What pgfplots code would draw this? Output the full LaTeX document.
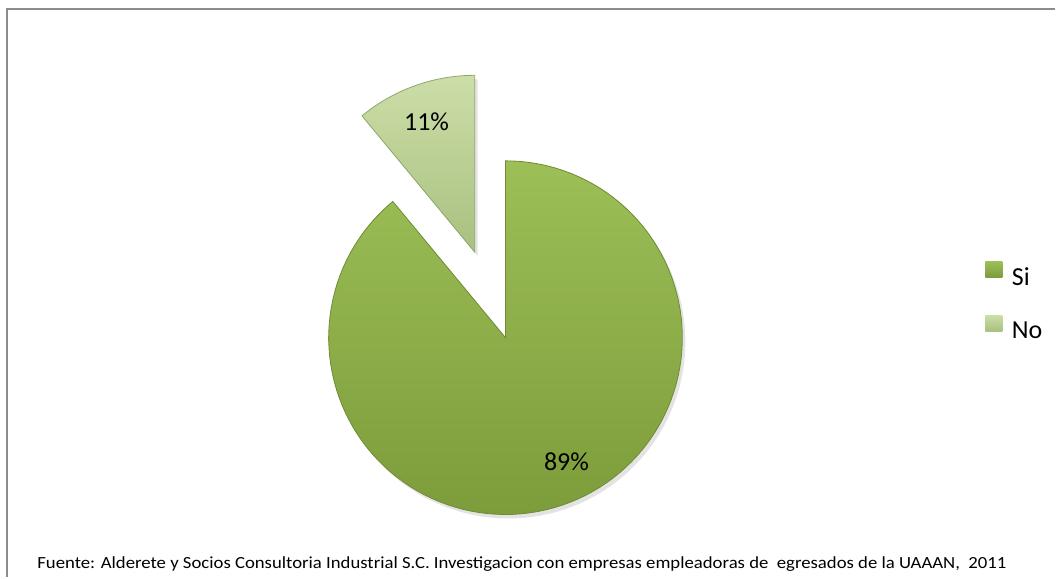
\documentclass[border=0pt]{standalone}
\usepackage{pgfplots}
\pgfplotsset{compat=1.18}
\usepackage{pgfplotstable}
\usepackage{graphicx}
\usepackage{fontspec}
\setmainfont{Carlito}

\definecolor{siTop}{HTML}{9CBF57}
\definecolor{siBot}{HTML}{7D9C3B}
\definecolor{siEdge}{HTML}{6F8B33}
\definecolor{noTop}{HTML}{CCDEA8}
\definecolor{noBot}{HTML}{A9C07F}
\definecolor{noEdge}{HTML}{8FA66A}
\definecolor{frameGray}{HTML}{8C8C8C}

% share of each answer (%)
\pgfplotstableread{
label value
Si 89
No 11
}\piedata

\begin{document}
\begin{tikzpicture}
\pgfplotstablegetelem{0}{value}\of\piedata \let\vsi\pgfplotsretval
\pgfplotstablegetelem{1}{value}\of\piedata \let\vno\pgfplotsretval
\pgfmathsetmacro{\total}{\vsi+\vno}
% Si runs clockwise from 12 o'clock, No fills the rest and is pulled out
\pgfmathsetmacro{\asplit}{90-360*(\vsi/\total)}
\pgfmathsetmacro{\nostart}{\asplit+360}
\pgfmathsetmacro{\nomid}{(\nostart+90)/2}
\pgfmathsetmacro{\cx}{506}
\pgfmathsetmacro{\cy}{240}
\pgfmathsetmacro{\rr}{177}
\pgfmathsetmacro{\ex}{\cx+91*cos(\nomid)}
\pgfmathsetmacro{\ey}{\cy+91*sin(\nomid)}
\begin{axis}[
    x=0.5pt, y=0.5pt,
    xmin=0, xmax=1056, ymin=0, ymax=578,
    hide axis, clip=false,
    legend style={at={(axis cs:986,316.5)}, anchor=north west,
        draw=none, fill=none, inner sep=0pt, row sep=12.5pt,
        font=\fontsize{13}{15}\selectfont,
        nodes={inner sep=0pt, text height=9.5pt, text depth=2.5pt}},
    legend cell align=left,
    legend image code/.code={
        \path[#1, draw=none] (0pt,0.3pt) rectangle (8.5pt,8.3pt);
        \path (13pt,0pt);},
]
% soft shadows
\addplot[forget plot, fill=black!18, draw=none, opacity=0.6, domain=\asplit:90, samples=120, variable=\t]
    ({\cx+3+\rr*cos(t)}, {\cy-4+\rr*sin(t)}) -- (axis cs:\cx+3,\cy-4) -- cycle;
\addplot[forget plot, fill=black!18, draw=none, opacity=0.6, domain=90:\nostart, samples=40, variable=\t]
    ({\ex+3+\rr*cos(t)}, {\ey-4+\rr*sin(t)}) -- (axis cs:\ex+3,\ey-4) -- cycle;

\addplot[top color=siTop, bottom color=siBot, draw=siEdge, line width=0.4pt,
    domain=\asplit:90, samples=120, variable=\t]
    ({\cx+\rr*cos(t)}, {\cy+\rr*sin(t)}) -- (axis cs:\cx,\cy) -- cycle;
\addlegendentry{Si}
\addplot[top color=noTop, bottom color=noBot, draw=noEdge, line width=0.4pt,
    domain=90:\nostart, samples=40, variable=\t]
    ({\ex+\rr*cos(t)}, {\ey+\rr*sin(t)}) -- (axis cs:\ex,\ey) -- cycle;
\addlegendentry{No}

\node[font=\fontsize{13}{15}\selectfont] at (axis cs:567,116) {\vsi\%};
\node[font=\fontsize{13}{15}\selectfont] at (axis cs:427,456) {\vno\%};

\node[anchor=west, inner sep=0pt] at (axis cs:37,13)
    {\resizebox{485pt}{\height}{\fontsize{8.5}{10}\selectfont Fuente: Alderete y Socios Consultoria Industrial S.C. Investigacion con empresas empleadoras de\ \ egresados de la UAAAN,\ \ 2011}};

\draw[frameGray, line width=1pt] (axis cs:7,0) -- (axis cs:7,569) -- (axis cs:1056,569);
\path (axis cs:0,0) rectangle (axis cs:1056,578);
\end{axis}
\end{tikzpicture}
\end{document}
